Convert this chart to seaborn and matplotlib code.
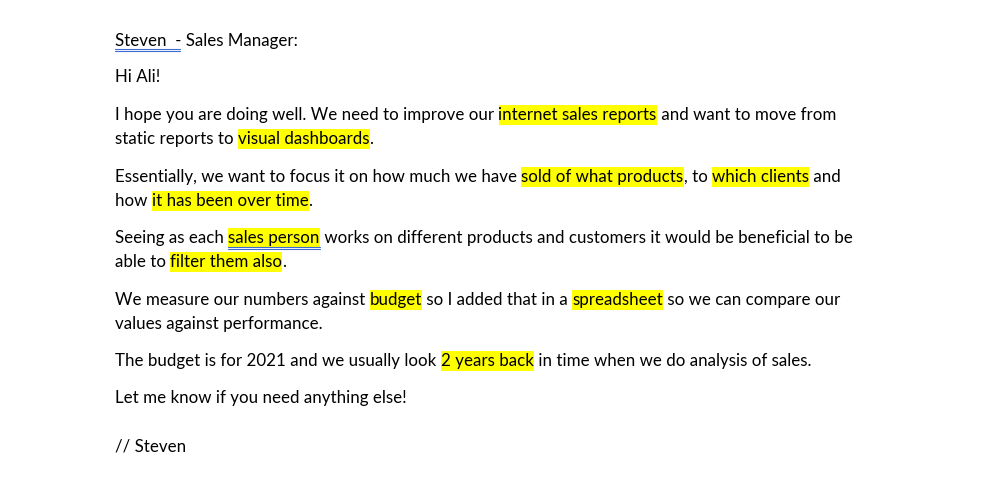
import matplotlib
matplotlib.use("Agg")
import matplotlib.pyplot as plt
import seaborn as sns

sns.set_style("white")
plt.rcParams['font.family'] = ['Lato', 'DejaVu Sans']

# Each line: list of (text, highlighted)
lines = [
    [("Steven  - Sales Manager:", False)],
    [("Hi Ali!", False)],
    [("I hope you are doing well. We need to improve our ", False), ("internet sales reports", True), (" and want to move from", False)],
    [("static reports to ", False), ("visual dashboards", True), (".", False)],
    [("Essentially, we want to focus it on how much we have ", False), ("sold of what products", True), (", to ", False), ("which clients", True), (" and", False)],
    [("how ", False), ("it has been over time", True), (".", False)],
    [("Seeing as each ", False), ("sales person", True), (" works on different products and customers it would be beneficial to be", False)],
    [("able to ", False), ("filter them also", True), (".", False)],
    [("We measure our numbers against ", False), ("budget", True), (" so I added that in a ", False), ("spreadsheet", True), (" so we can compare our", False)],
    [("values against performance.", False)],
    [("The budget is for 2021 and we usually look ", False), ("2 years back", True), (" in time when we do analysis of sales.", False)],
    [("Let me know if you need anything else!", False)],
    [("// Steven", False)],
]
line_y = [41, 77, 115, 139, 177, 201, 238, 262, 300, 324, 361, 398, 447]

fig = plt.figure(figsize=(9.87, 4.92), dpi=100)
ax = fig.add_axes([0, 0, 1, 1])
ax.set_xlim(0, 987)
ax.set_ylim(492, 0)
ax.axis("off")
fig.canvas.draw()
r = fig.canvas.get_renderer()

fs = 12.2
for segs, y in zip(lines, line_y):
    x = 115
    for txt, hl in segs:
        t = ax.text(x, y, txt, fontsize=fs, va="center", ha="left", color="black", zorder=3)
        bb = t.get_window_extent(renderer=r)
        w = bb.width
        if hl:
            ax.add_patch(plt.Rectangle((x, y - 10), w, 20, color="#ffff00", zorder=1, lw=0))
        if txt == "sales person":
            ax.plot([x, x + w], [y + 9, y + 9], color="#3c6ccf", lw=0.8, zorder=4)
            ax.plot([x, x + w], [y + 11, y + 11], color="#3c6ccf", lw=0.8, zorder=4)
        x += w
# spelling underline under "Steven"
ax.plot([115, 180], [49, 49], color="#3c6ccf", lw=0.8)
ax.plot([115, 180], [51, 51], color="#3c6ccf", lw=0.8)

fig.savefig("out.png", dpi=100)
